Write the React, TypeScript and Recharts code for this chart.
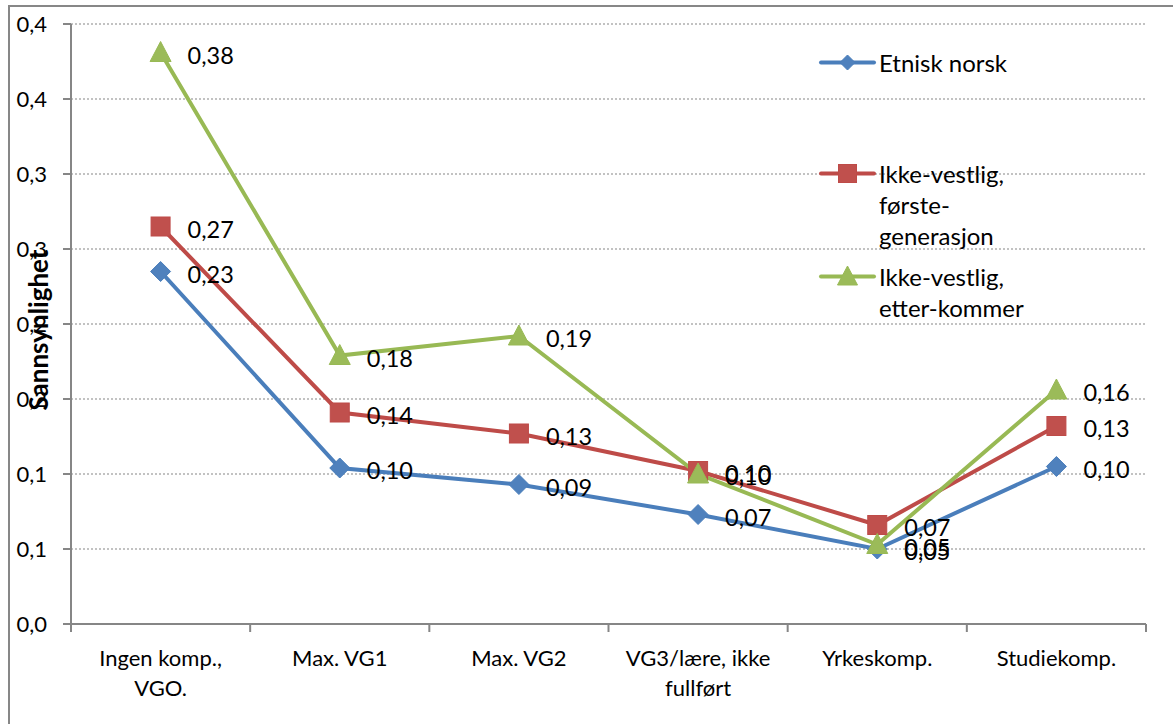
import { CartesianGrid, ComposedChart, LabelList, Legend, Line, XAxis, YAxis } from "recharts";

const CATEGORIES = [
  "Ingen komp.,\nVGO.",
  "Max. VG1",
  "Max. VG2",
  "VG3/lære, ikke\nfullført",
  "Yrkeskomp.",
  "Studiekomp.",
];

const ETNISK_NORSK = [0.235, 0.104, 0.093, 0.073, 0.05, 0.105];
const FORSTE_GENERASJON = [0.265, 0.141, 0.127, 0.102, 0.066, 0.132];
const ETTERKOMMER = [0.381, 0.179, 0.192, 0.1, 0.053, 0.156];

const Y_TICKS = [0, 0.05, 0.1, 0.15, 0.2, 0.25, 0.3, 0.35, 0.4];

const FONT = "Lato, 'DejaVu Sans', sans-serif";
const AXIS_GRAY = "#868686";

type MarkerKind = "diamond" | "square" | "triangle";

const SERIES: {
  key: string;
  name: string;
  legendLabel: string;
  line: string;
  fill: string;
  marker: MarkerKind;
}[] = [
  {
    key: "etnisk",
    name: "Etnisk norsk",
    legendLabel: "Etnisk norsk",
    line: "#4A7EBB",
    fill: "#4F81BD",
    marker: "diamond",
  },
  {
    key: "forste",
    name: "Ikke-vestlig, første-generasjon",
    legendLabel: "Ikke-vestlig,\nførste-\ngenerasjon",
    line: "#BE4B48",
    fill: "#C0504D",
    marker: "square",
  },
  {
    key: "etter",
    name: "Ikke-vestlig, etter-kommer",
    legendLabel: "Ikke-vestlig,\netter-kommer",
    line: "#98B954",
    fill: "#9BBB59",
    marker: "triangle",
  },
];

// gap above each legend entry, Excel spreads them down the right side
const LEGEND_GAPS = [0, 80, 10];

const data = CATEGORIES.map((category, i) => ({
  category,
  etnisk: ETNISK_NORSK[i],
  forste: FORSTE_GENERASJON[i],
  etter: ETTERKOMMER[i],
}));

function formatComma(v: number, digits: number) {
  const f = Math.pow(10, digits);
  return (Math.round(v * f) / f).toFixed(digits).replace(".", ",");
}

function Marker({
  cx,
  cy,
  kind,
  fill,
  stroke,
  size = 10,
}: {
  cx: number;
  cy: number;
  kind: MarkerKind;
  fill: string;
  stroke: string;
  size?: number;
}) {
  if (kind === "diamond") {
    return (
      <polygon
        points={`${cx},${cy - size} ${cx + size},${cy} ${cx},${cy + size} ${cx - size},${cy}`}
        fill={fill}
        stroke={stroke}
        strokeWidth={1}
      />
    );
  }
  if (kind === "square") {
    return (
      <rect
        x={cx - size + 0.5}
        y={cy - size + 0.5}
        width={size * 2 - 1}
        height={size * 2 - 1}
        fill={fill}
        stroke={stroke}
        strokeWidth={1}
      />
    );
  }
  return (
    <polygon
      points={`${cx},${cy - size - 1} ${cx + size + 0.5},${cy + size - 1} ${cx - size - 0.5},${cy + size - 1}`}
      fill={fill}
      stroke={stroke}
      strokeWidth={1}
    />
  );
}

// category label plus Excel-style tick marks on the band edges (offset = half bandwidth)
function CategoryTick({ x, y, payload, index, visibleTicksCount }: any) {
  const lines = String(payload?.value ?? "").split("\n");
  const half = Number(payload?.offset ?? 0);
  const isLast = visibleTicksCount != null ? index === visibleTicksCount - 1 : index === CATEGORIES.length - 1;
  return (
    <g>
      <line x1={x - half} y1={y} x2={x - half} y2={y + 8} stroke={AXIS_GRAY} strokeWidth={2} />
      {isLast && (
        <line x1={x + half} y1={y} x2={x + half} y2={y + 8} stroke={AXIS_GRAY} strokeWidth={2} />
      )}
      {lines.map((line, i) => (
        <text
          key={i}
          x={x}
          y={y + 33 + i * 30}
          textAnchor="middle"
          dominantBaseline="central"
          fontSize={22}
          fontFamily={FONT}
          fill="#000"
        >
          {line}
        </text>
      ))}
    </g>
  );
}

function ValueLabel(props: any) {
  const { x, y, value } = props;
  if (x == null || y == null || value == null) return null;
  return (
    <text
      x={x + 27}
      y={y + 2}
      dominantBaseline="central"
      fontSize={23.5}
      fontFamily={FONT}
      fill="#000"
    >
      {Number(value).toFixed(2).replace(".", ",")}
    </text>
  );
}

function YTitle(props: any) {
  const vb = props.viewBox ?? {};
  const cx = (vb.x ?? 0) + 38;
  const cy = (vb.y ?? 0) + (vb.height ?? 0) / 2 + 6;
  return (
    <text
      x={cx}
      y={cy}
      transform={`rotate(-90 ${cx} ${cy})`}
      textAnchor="middle"
      dominantBaseline="central"
      fontSize={26}
      fontWeight="bold"
      fontFamily={FONT}
      fill="#000"
    >
      Sannsynlighet
    </text>
  );
}

function LegendBox() {
  return (
    <div style={{ width: 330, fontFamily: FONT, fontSize: 24, color: "#000" }}>
      {SERIES.map((s, i) => (
        <div
          key={s.key}
          style={{ display: "flex", alignItems: "flex-start", marginTop: LEGEND_GAPS[i] }}
        >
          <svg width={61} height={31} style={{ flex: "none" }}>
            <line
              x1={3}
              y1={15.5}
              x2={56}
              y2={15.5}
              stroke={s.line}
              strokeWidth={4}
              strokeLinecap="round"
            />
            <Marker
              cx={29.5}
              cy={15.5}
              kind={s.marker}
              fill={s.fill}
              stroke={s.line}
              size={s.marker === "diamond" ? 7.5 : 9.5}
            />
          </svg>
          <div style={{ whiteSpace: "pre-line", lineHeight: "31px" }}>{s.legendLabel}</div>
        </div>
      ))}
    </div>
  );
}

export default function App() {
  return (
    <div
      style={{
        position: "absolute",
        left: 0,
        top: 0,
        width: 1173,
        height: 724,
        overflow: "hidden",
        background: "#fff",
        fontFamily: FONT,
      }}
    >
      <div
        style={{
          position: "absolute",
          left: 8,
          top: 5,
          width: 1300,
          height: 900,
          border: "2px solid #878787",
          boxSizing: "border-box",
        }}
      />
      <div style={{ position: "absolute", left: 0, top: 0 }}>
        <ComposedChart
          width={1173}
          height={724}
          data={data}
          margin={{ top: 24, right: 27, bottom: 10, left: 0 }}
        >
          <CartesianGrid
            vertical={false}
            stroke={AXIS_GRAY}
            strokeDasharray="2 2"
            strokeWidth={1.2}
          />
          <XAxis
            dataKey="category"
            scale="band"
            interval={0}
            tickLine={false}
            tickSize={0}
            tickMargin={0}
            height={90}
            stroke={AXIS_GRAY}
            strokeWidth={2}
            tick={<CategoryTick />}
          />
          <YAxis
            width={71}
            domain={[0, 0.4]}
            ticks={Y_TICKS}
            interval={0}
            tickSize={8}
            tickMargin={16}
            stroke={AXIS_GRAY}
            strokeWidth={2}
            tick={{ fill: "#000", fontSize: 22, fontFamily: FONT }}
            tickFormatter={(v: number) => formatComma(v, 1)}
            label={<YTitle />}
          />
          <Legend
            layout="vertical"
            align="center"
            verticalAlign="middle"
            wrapperStyle={{ left: 818, top: 47, width: 330 }}
            content={() => <LegendBox />}
          />
          {SERIES.map((s) => (
            <Line
              key={s.key}
              dataKey={s.key}
              name={s.name}
              stroke={s.line}
              strokeWidth={4}
              isAnimationActive={false}
              dot={(p: any) => (
                <Marker
                  key={`${s.key}-${p.index}`}
                  cx={p.cx}
                  cy={p.cy}
                  kind={s.marker}
                  fill={s.fill}
                  stroke={s.line}
                />
              )}
              activeDot={false}
            >
              <LabelList dataKey={s.key} content={<ValueLabel />} />
            </Line>
          ))}
        </ComposedChart>
      </div>
    </div>
  );
}
